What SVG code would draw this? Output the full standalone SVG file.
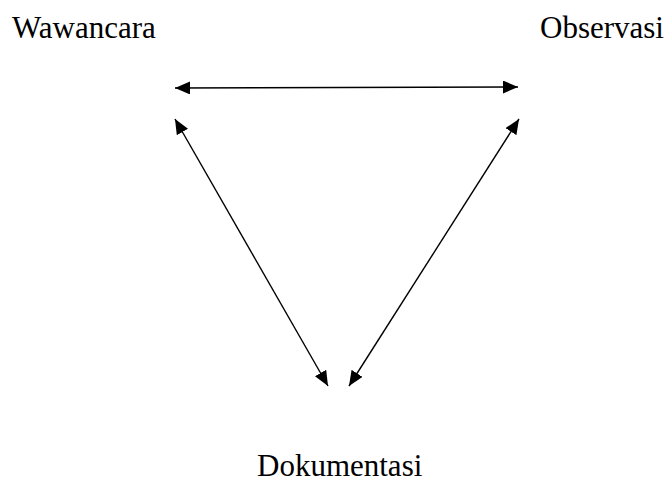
<svg xmlns="http://www.w3.org/2000/svg" width="670" height="482" viewBox="0 0 670 482">
<style>
text{font-family:"Liberation Serif","Times New Roman",serif;font-size:31px;fill:#000}
.c line{stroke:#000;stroke-width:1.4;fill:none}
</style>
<defs>
<marker id="ah" viewBox="0 0 15 13" refX="15" refY="6.5" markerWidth="15" markerHeight="13" markerUnits="userSpaceOnUse" orient="auto-start-reverse">
<path d="M0,0 L15,6.5 L0,13 Z" fill="#000"/>
</marker>
</defs>
<rect width="670" height="482" fill="#fff"/>
<g id="wawancara"><text x="12" y="38">Wawancara</text></g>
<g id="observasi"><text x="540" y="38">Observasi</text></g>
<g id="dokumentasi"><text x="257" y="476">Dokumentasi</text></g>
<g class="c" id="connectors">
<line x1="175" y1="88" x2="518" y2="87" marker-start="url(#ah)" marker-end="url(#ah)"/>
<line x1="175" y1="119" x2="328" y2="386" marker-start="url(#ah)" marker-end="url(#ah)"/>
<line x1="519" y1="119" x2="349" y2="386" marker-start="url(#ah)" marker-end="url(#ah)"/>
</g>
</svg>
